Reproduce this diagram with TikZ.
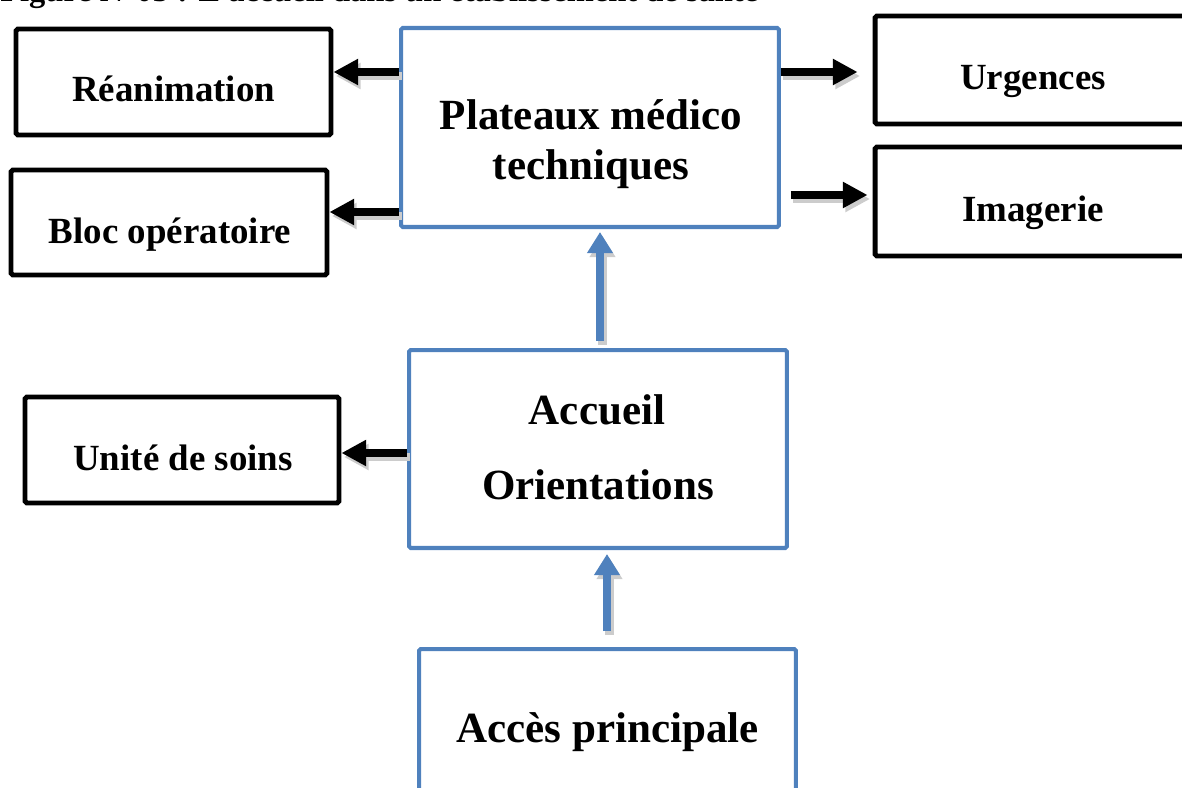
\documentclass[tikz,border=0pt]{standalone}
\usepackage{fontspec}
\setmainfont{Liberation Serif}
\usetikzlibrary{arrows.meta}
\definecolor{boxblue}{HTML}{4F81BD}
\begin{document}
\begin{tikzpicture}[x=0.02cm,y=-0.02cm,
  blackbox/.style={draw=black, line width=2.8pt, rectangle, inner sep=0pt, rounded corners=1pt},
  bluebox/.style={draw=boxblue, line width=2.3pt, rectangle, inner sep=0pt, rounded corners=1pt},
  lbl/.style={font=\bfseries\fontsize{21}{25}\selectfont, anchor=base, inner sep=0pt},
  biglbl/.style={font=\bfseries\fontsize{24.5}{29}\selectfont, anchor=base, inner sep=0pt},
  titlelbl/.style={font=\bfseries\fontsize{18.5}{22}\selectfont, anchor=base west, inner sep=0pt},
  blkarrow/.style={draw=black, line width=4.4pt, -{Triangle[length=14pt,width=14pt]}},
  bluearrow/.style={draw=boxblue, line width=5pt, -{Triangle[length=12pt,width=14pt]}},
  shade/.style={draw=black!20, transform canvas={shift={(0.05cm,-0.08cm)}}},
]
\useasboundingbox (0,0) rectangle (1182,787);
\clip (0,0) rectangle (1182,787);

% caption line
\node[titlelbl] (title) at (0,2) {Figure N°05 : L'accueil dans un établissement de santé};

% boxes
\node[blackbox, minimum width=6.30cm, minimum height=2.12cm] (rea)  at (173.5,82)  {};
\node[blackbox, minimum width=6.32cm, minimum height=2.10cm] (bloc) at (169,222.5) {};
\node[blackbox, minimum width=6.32cm, minimum height=2.16cm] (urg)  at (1033,70)   {};
\node[blackbox, minimum width=6.32cm, minimum height=2.18cm] (ima)  at (1033,201.5){};
\node[blackbox, minimum width=6.28cm, minimum height=2.12cm] (uni)  at (182,450)   {};
\node[bluebox,  minimum width=7.56cm, minimum height=3.98cm] (plat) at (590,127.5) {};
\node[bluebox,  minimum width=7.56cm, minimum height=3.96cm] (acc)  at (598,449)   {};
\node[bluebox,  minimum width=7.54cm, minimum height=4.02cm] (acp)  at (607.5,749.5){};

% labels
\node[lbl] (t-rea)  at (173.5,102) {Réanimation};
\node[lbl] (t-bloc) at (170,243)   {Bloc opératoire};
\node[lbl] (t-urg)  at (1033,90)   {Urgences};
\node[lbl] (t-ima)  at (1033,221)  {Imagerie};
\node[lbl] (t-uni)  at (183,470)   {Unité de soins};
\node[biglbl] (t-plat1) at (591,130) {Plateaux médico};
\node[biglbl] (t-plat2) at (591,179) {techniques};
\node[biglbl] (t-acc1)  at (597,424) {Accueil};
\node[biglbl] (t-acc2)  at (598,499) {Orientations};
\node[biglbl] (t-acp)   at (607.5,742) {Accès principale};

% connector shadows
\draw[blkarrow, shade] (plat.west |- 0,72) -- (rea.east |- 0,72);
\draw[blkarrow, shade] (plat.west |- 0,212) -- (bloc.east |- 0,212);
\draw[blkarrow, shade, shorten >=0.3cm] (plat.east |- 0,72) -- (urg.west |- 0,72);
\draw[blkarrow, shade, shorten <=0.2cm, shorten >=0.1cm] (plat.east |- 0,195) -- (ima.west |- 0,195);
\draw[blkarrow, shade] (acc.west |- 0,453) -- (uni.east |- 0,453);
\draw[bluearrow, shade, shorten <=0.14cm, shorten >=0.06cm] (acc.north -| 600,0) -- (plat.south -| 600,0);
\draw[bluearrow, shade, shorten <=0.32cm, shorten >=0.08cm] (acp.north -| 607,0) -- (acc.south -| 607,0);

% connectors
\draw[blkarrow] (plat.west |- 0,72) -- (rea.east |- 0,72);
\draw[blkarrow] (plat.west |- 0,212) -- (bloc.east |- 0,212);
\draw[blkarrow, shorten >=0.3cm] (plat.east |- 0,72) -- (urg.west |- 0,72);
\draw[blkarrow, shorten <=0.2cm, shorten >=0.1cm] (plat.east |- 0,195) -- (ima.west |- 0,195);
\draw[blkarrow] (acc.west |- 0,453) -- (uni.east |- 0,453);
\draw[bluearrow, shorten <=0.14cm, shorten >=0.06cm] (acc.north -| 600,0) -- (plat.south -| 600,0);
\draw[bluearrow, shorten <=0.32cm, shorten >=0.08cm] (acp.north -| 607,0) -- (acc.south -| 607,0);
\end{tikzpicture}
\end{document}
